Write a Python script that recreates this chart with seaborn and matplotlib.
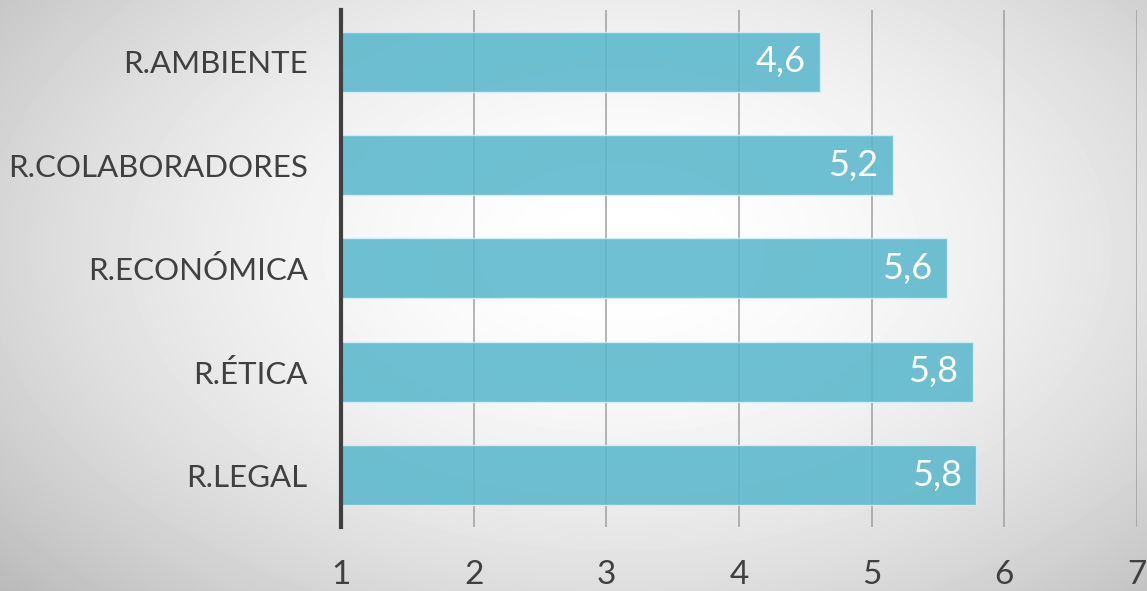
import numpy as np
import pandas as pd
import matplotlib
matplotlib.use("Agg")
import matplotlib.pyplot as plt
import seaborn as sns

categorias = ["R.AMBIENTE", "R.COLABORADORES", "R.ECONÓMICA", "R.ÉTICA", "R.LEGAL"]
valores = [4.61, 5.16, 5.57, 5.76, 5.79]
ticks_x = [1, 2, 3, 4, 5, 6, 7]

df = pd.DataFrame({"categoria": categorias, "valor": valores})

sns.set_theme(style="white")
plt.rcParams["font.family"] = ["Lato", "DejaVu Sans"]

fig = plt.figure(figsize=(11.47, 5.91), dpi=100)

# fondo con degradado radial
bg = fig.add_axes([0, 0, 1, 1])
yy, xx = np.mgrid[0:591, 0:1147]
r = np.sqrt(((xx - 620) / 720.0) ** 2 + ((yy - 250) / 440.0) ** 2)
gris = 1 - 0.21 * np.clip(r, 0, 1.3) ** 1.8
bg.imshow(gris, cmap="gray", vmin=0, vmax=1, aspect="auto", extent=[0, 1, 0, 1])
bg.axis("off")

ax = fig.add_axes([0.2973, 0.1083, 0.694, 0.875])
ax.patch.set_alpha(0)
ax.set_xlim(1, 7)

for x in ticks_x[1:]:
    ax.axvline(x, color="#a0a0a0", lw=1.1, zorder=0)

sns.barplot(data=df, x="valor", y="categoria", orient="h", color="#5ab8cc",
            alpha=0.88, width=0.58, saturation=1, ax=ax, zorder=2,
            edgecolor="#d8eef3", linewidth=1)
ax.set_xlim(1, 7)
ax.set_ylim(4.5, -0.5)

for i, v in enumerate(valores):
    ax.text(v - 0.11, i, f"{v:.1f}".replace(".", ","), color="white",
            fontsize=26, ha="right", va="center", zorder=3)

ax.set_xticks(ticks_x)
ax.set_xticklabels([str(t) for t in ticks_x])
ax.tick_params(axis="x", length=0, pad=24, labelsize=24, labelcolor="#404040")
ax.tick_params(axis="y", length=0, pad=24, labelsize=22.5, labelcolor="#404040")
ax.set_xlabel("")
ax.set_ylabel("")
for s in ["top", "right", "bottom"]:
    ax.spines[s].set_visible(False)
ax.spines["left"].set_color("#404040")
ax.spines["left"].set_linewidth(3)
ax.spines["left"].set_zorder(4)

fig.savefig("out.png", dpi=100)
